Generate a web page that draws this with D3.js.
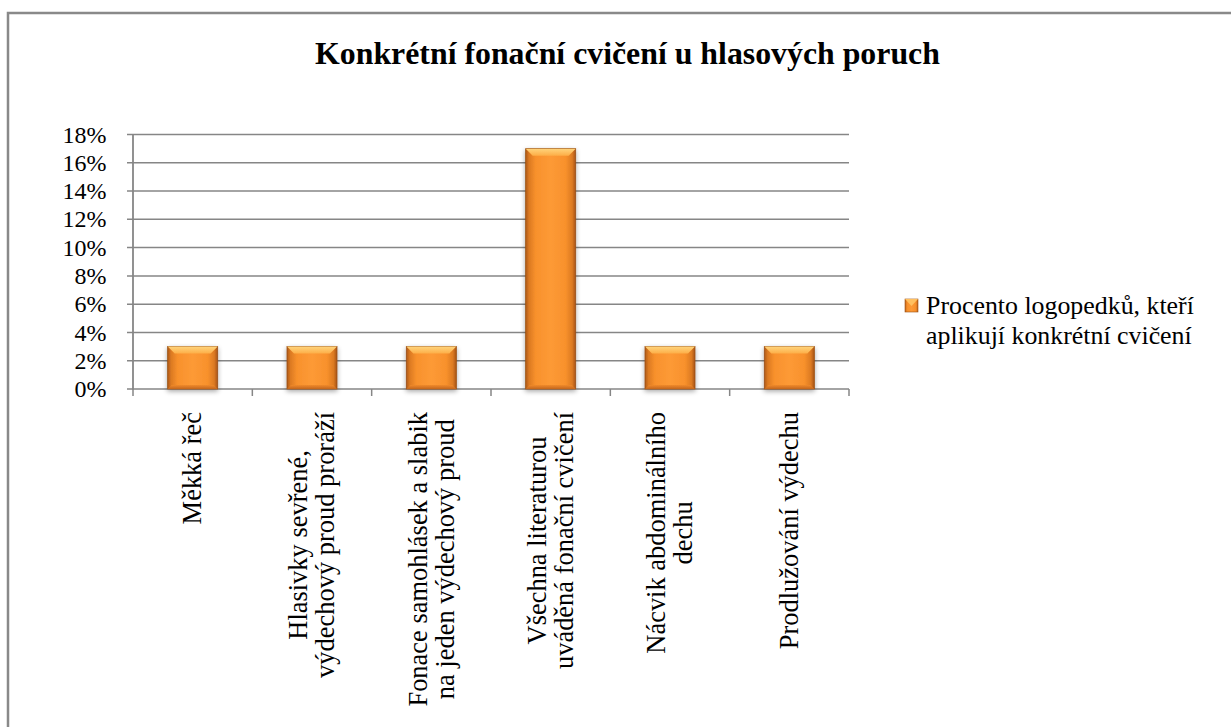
<!DOCTYPE html>
<html><head><meta charset="utf-8">
<script src="https://cdn.jsdelivr.net/npm/d3@7"></script>
<style>
html,body{margin:0;padding:0;background:#fff;}
svg{display:block;}
</style></head>
<body>
<svg id="c" width="1231" height="727"></svg>
<script>
const title = "Konkrétní fonační cvičení u hlasových poruch";
const categories = [
  ["Měkká řeč"],
  ["Hlasivky sevřené,", "výdechový proud proráží"],
  ["Fonace samohlásek a slabik", "na jeden výdechový proud"],
  ["Všechna literaturou", "uváděná fonační cvičení"],
  ["Nácvik abdominálního", "dechu"],
  ["Prodlužování výdechu"]
];
const values = [0.03, 0.03, 0.03, 0.17, 0.03, 0.03];
const yTicks = [0, 0.02, 0.04, 0.06, 0.08, 0.10, 0.12, 0.14, 0.16, 0.18];
const legendLines = ["Procento logopedků, kteří", "aplikují konkrétní cvičení"];

const FONT = "'Liberation Serif', 'Times New Roman', Tinos, serif";
const svg = d3.select("#c");

function T(sel) { return sel.style("font-family", FONT).style("fill", "#000"); }
function fit(str, target, bold) {
  const t = T(svg.append("text")).style("font-size", "20px").style("font-weight", bold ? "bold" : "normal").text(str);
  const w = t.node().getComputedTextLength();
  t.remove();
  return 20 * target / w;
}
const fsTitle = fit(title, 625, true);
const fsY = fit("18%", 44, false);
const fsX = fit("výdechový proud proráží", 266, false);
const fsL = fit(legendLines[0], 268, false);

// outer border
svg.append("rect").attr("x", 8).attr("y", 13).attr("width", 1240).attr("height", 730)
  .attr("fill", "none").attr("stroke", "#898989").attr("stroke-width", 2.5);

// title
T(svg.append("text")).attr("x", 627.5).attr("y", 64).attr("text-anchor", "middle")
  .style("font-weight", "bold").style("font-size", fsTitle + "px").text(title);

const plot = {left: 133, right: 849, top: 134.5, bottom: 389};
const x = d3.scaleBand().domain(d3.range(categories.length)).range([plot.left, plot.right]);
const y = d3.scaleLinear().domain([0, 0.18]).range([plot.bottom, plot.top]);

const gridColor = "#868686";
svg.append("g").selectAll("line").data(yTicks).join("line")
  .attr("x1", plot.left - 6).attr("x2", plot.right)
  .attr("y1", d => y(d)).attr("y2", d => y(d))
  .attr("stroke", gridColor).attr("stroke-width", 1.5);

svg.append("line").attr("x1", plot.left).attr("x2", plot.left).attr("y1", plot.top).attr("y2", plot.bottom + 0.5)
  .attr("stroke", gridColor).attr("stroke-width", 1.8);

T(svg.append("g").selectAll("text").data(yTicks).join("text"))
  .attr("x", 106.5).attr("y", d => y(d) + fsY * 0.34).attr("text-anchor", "end")
  .style("font-size", fsY + "px").text(d => Math.round(d * 100) + "%");

const xTickPos = d3.range(categories.length + 1).map(i => plot.left + i * x.bandwidth());
svg.append("g").selectAll("line").data(xTickPos).join("line")
  .attr("x1", d => d).attr("x2", d => d).attr("y1", plot.bottom).attr("y2", plot.bottom + 7)
  .attr("stroke", gridColor).attr("stroke-width", 1.5);

const defs = svg.append("defs");
const g1 = defs.append("linearGradient").attr("id", "barH").attr("x1", "0").attr("x2", "1").attr("y1", "0").attr("y2", "0");
[[0, "#b05a18"], [0.07, "#dc7a22"], [0.2, "#f8912c"], [0.5, "#fd9a36"], [0.8, "#f8912c"], [0.93, "#dc7a22"], [1, "#a85416"]]
  .forEach(([o, c]) => g1.append("stop").attr("offset", o).attr("stop-color", c));
const g2 = defs.append("linearGradient").attr("id", "barTop").attr("x1", "0").attr("x2", "0").attr("y1", "0").attr("y2", "1");
[[0, "#ffd47c"], [1, "#fdae48"]].forEach(([o, c]) => g2.append("stop").attr("offset", o).attr("stop-color", c));
const g3 = defs.append("linearGradient").attr("id", "barBot").attr("x1", "0").attr("x2", "0").attr("y1", "0").attr("y2", "1");
[[0, "#f08a2a"], [1, "#c4661c"]].forEach(([o, c]) => g3.append("stop").attr("offset", o).attr("stop-color", c));
const flt = defs.append("filter").attr("id", "sh").attr("x", "-20%").attr("y", "-20%").attr("width", "140%").attr("height", "140%");
flt.append("feGaussianBlur").attr("in", "SourceAlpha").attr("stdDeviation", 2.5);
flt.append("feOffset").attr("dx", 0).attr("dy", 2).attr("result", "ob");
flt.append("feComponentTransfer").append("feFuncA").attr("type", "linear").attr("slope", 0.35);
const fm = flt.append("feMerge"); fm.append("feMergeNode"); fm.append("feMergeNode").attr("in", "SourceGraphic");

const barW = 50;
const bars = svg.append("g").selectAll("g").data(values).join("g").attr("filter", "url(#sh)");
bars.append("rect")
  .attr("x", (d, i) => x(i) + x.bandwidth() / 2 - barW / 2)
  .attr("y", d => y(d)).attr("width", barW).attr("height", d => y(0) - y(d))
  .attr("fill", "url(#barH)").attr("stroke", "#9a5014").attr("stroke-width", 0.8);
const bev = 7;
bars.append("path").attr("d", (d, i) => {
  const x0 = x(i) + x.bandwidth() / 2 - barW / 2, x1 = x0 + barW, yt = y(d);
  return `M${x0},${yt}L${x1},${yt}L${x1 - bev},${yt + bev}L${x0 + bev},${yt + bev}Z`;
}).attr("fill", "url(#barTop)");
bars.append("path").attr("d", (d, i) => {
  const x0 = x(i) + x.bandwidth() / 2 - barW / 2, x1 = x0 + barW, yb = y(0);
  return `M${x0},${yb}L${x1},${yb}L${x1 - 4},${yb - 4}L${x0 + 4},${yb - 4}Z`;
}).attr("fill", "url(#barBot)");

// x labels: rotated, lines centred on each other, block ending at top
const lineH = 27;
const labelTop = 412;
categories.forEach((lines, i) => {
  const cx = x(i) + x.bandwidth() / 2;
  const g = svg.append("g");
  const texts = lines.map(l => T(g.append("text")).style("font-size", fsX + "px").attr("text-anchor", "middle").text(l));
  const maxW = d3.max(texts, t => t.node().getComputedTextLength());
  const n = lines.length;
  texts.forEach((t, j) => {
    const off = (j - (n - 1) / 2) * lineH;
    const bx = cx + off + fsX * 0.33;
    const by = labelTop + maxW / 2;
    t.attr("transform", `translate(${bx},${by}) rotate(-90)`);
  });
});

// legend
svg.append("rect").attr("x", 905).attr("y", 299).attr("width", 13).attr("height", 13)
  .attr("fill", "url(#barH)").attr("stroke", "#9a5014").attr("stroke-width", 0.6);
svg.append("path").attr("d", "M905,299L918,299L911.5,306Z").attr("fill", "#ffc060");
T(svg.append("g").selectAll("text").data(legendLines).join("text"))
  .attr("x", 926).attr("y", (d, i) => 314 + i * fsL * 1.16)
  .style("font-size", fsL + "px").text(d => d);
</script>
</body></html>
